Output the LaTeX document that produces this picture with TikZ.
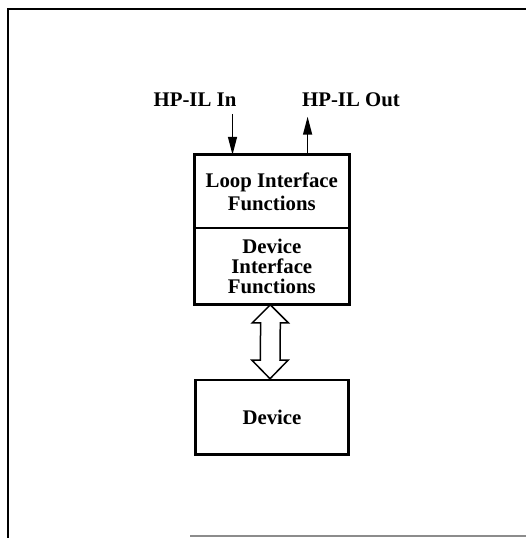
\documentclass[tikz,border=0pt]{standalone}
\usepackage{fontspec}
\setmainfont{Liberation Serif}
\usetikzlibrary{arrows.meta,calc}
\begin{document}
\begin{tikzpicture}[x=1pt,y=1pt,
  lbl/.style={font=\bfseries\fontsize{20.8}{22.7}\selectfont, inner sep=0pt, anchor=base},
  part/.style={minimum width=154.4pt, inner sep=0pt, align=center, font=\bfseries\fontsize{20.8}{22.7}\selectfont},
  boxline/.style={line width=2.6pt, line join=miter},
  sig/.style={line width=1.4pt, -{Triangle[length=18pt,width=9pt]}},
  dbl/.style={line width=1.5pt, line join=miter, fill=white}
]
\useasboundingbox (0,0) rectangle (526,538);
% frame
\draw[line width=1.6pt] (8,0) -- (8,529) -- (526,529);
\draw[line width=1.2pt, black!45] (190,2) -- (526,2);
% labels
\node[lbl] (inl) at (195,431) {HP-IL In};
\node[lbl] (outl) at (351,431) {HP-IL Out};
% main box parts
\node[part, minimum height=73pt] (loop) at (271.8,346.5) {Loop Interface\\Functions};
\node[part, minimum height=76.6pt, font=\bfseries\fontsize{20.8}{20}\selectfont] (dif) at (271.8,271.7) {Device\\Interface\\Functions};
\node[part, minimum width=153.4pt, minimum height=74.5pt, draw, boxline] (dev) at (272,120.7) {Device};
\draw[boxline] (loop.north west) rectangle (dif.south east);
\draw[line width=1.4pt] (loop.south west) -- (loop.south east);
% signal arrows
\coordinate (inS) at (232.5,424);
\coordinate (outE) at (307.6,421.3);
\draw[sig] (inS) -- (inS |- loop.north);
\draw[sig] (outE |- loop.north) -- (outE);
% double arrow
\coordinate (dt) at ($(dif.south)+(-1.5,0)$);
\coordinate (db) at ($(dev.north)+(-2,0)$);
\draw[dbl] (dt) -- ++(18,-18) -- ++(-8,0) -- ($(db)+(10,18.5)$) -- ++(8,0) -- (db)
  -- ++(-18,18.5) -- ++(8.3,0) -- ($(dt)+(-9.7,-18)$) -- ++(-8.3,0) -- cycle;
\end{tikzpicture}
\end{document}
